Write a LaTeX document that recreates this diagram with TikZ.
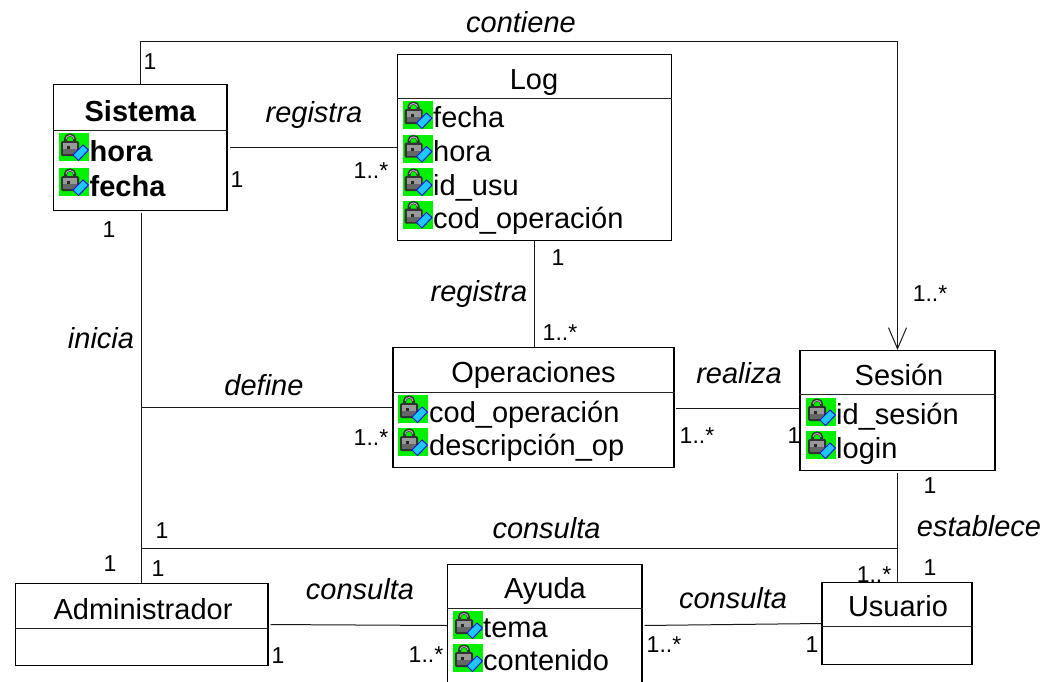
\documentclass[tikz,border=0pt]{standalone}
\usepackage{fontspec}
\setmainfont{Liberation Sans}
\usetikzlibrary{arrows.meta}
\definecolor{icongreen}{RGB}{0,240,0}
\definecolor{iconcyan}{RGB}{30,200,255}
\definecolor{iconblue}{RGB}{20,20,220}
\tikzset{
  umlbox/.style={draw=black,line width=1.1pt,fill=white,inner sep=0pt},
  rule/.style={draw=black!85,line width=1pt},
  link/.style={draw=black!90,line width=1pt},
  nametext/.style={font=\fontsize{29}{32}\selectfont,anchor=base,inner sep=0pt},
  boldname/.style={font=\fontsize{29}{32}\selectfont\bfseries,anchor=base,inner sep=0pt},
  attrtext/.style={font=\fontsize{29}{32}\selectfont,anchor=base west,inner sep=0pt},
  boldattr/.style={font=\fontsize{29}{32}\selectfont\bfseries,anchor=base west,inner sep=0pt},
  role/.style={font=\fontsize{29}{32}\selectfont\itshape,anchor=base,inner sep=0pt},
  mult/.style={font=\fontsize{23}{26}\selectfont,anchor=base,inner sep=0pt},
  lockicon/.pic={
    \fill[icongreen] (0,0) rectangle (30,28);
    \draw[black!80,line width=3pt] (6.5,10) -- (6.5,6) arc[start angle=180,end angle=0,x radius=4.5,y radius=-4] -- (15.5,10);
    \draw[black!30,line width=1pt] (7,6) arc[start angle=180,end angle=0,x radius=4,y radius=-3.5];
    \fill[black!80,rounded corners=1.5pt] (2,8) rectangle (20,23);
    \fill[black!40] (4,10) rectangle (18,21);
    \fill[black!60] (4,16) rectangle (18,21);
    \fill[black!85] (8,13) rectangle (11,16);
    \filldraw[fill=iconcyan,draw=iconblue,line width=1pt] (14,22) -- (24,12) -- (29.5,17) -- (19.5,27.5) -- cycle;
  }
}
\begin{document}
\begin{tikzpicture}[x=1pt,y=-1pt]
\useasboundingbox (0,0) rectangle (1049,681);
\clip (0,0) rectangle (1049,681);

% class boxes
\node[umlbox,minimum width=173.5pt,minimum height=126pt] (sis) at (140.25,147.5) {};
\node[umlbox,minimum width=274pt,minimum height=186pt] (log) at (534.5,147.5) {};
\node[umlbox,minimum width=281pt,minimum height=120pt] (ope) at (533.5,407.5) {};
\node[umlbox,minimum width=195pt,minimum height=120pt] (ses) at (897.5,410.5) {};
\node[umlbox,minimum width=252.5pt,minimum height=82pt] (adm) at (141.75,624.5) {};
\node[umlbox,minimum width=194.5pt,minimum height=122pt] (ayu) at (544.75,625.5) {};
\node[umlbox,minimum width=150pt,minimum height=82pt] (usu) at (897,623.5) {};

% compartment rules
\draw[rule] (sis.west |- 0,130.5) -- (sis.east |- 0,130.5);
\draw[rule] (log.west |- 0,98.5) -- (log.east |- 0,98.5);
\draw[rule] (ope.west |- 0,392) -- (ope.east |- 0,392);
\draw[rule] (ses.west |- 0,394.5) -- (ses.east |- 0,394.5);
\draw[rule] (adm.west |- 0,628) -- (adm.east |- 0,628);
\draw[rule] (ayu.west |- 0,608) -- (ayu.east |- 0,608);
\draw[rule] (usu.west |- 0,626.5) -- (usu.east |- 0,626.5);

% junction coordinates
\coordinate (ctop) at (897.5,41.5);
\coordinate (cdef) at (141.5,407.5);
\coordinate (cadm) at (141.5,548.5);
\coordinate (cses) at (897.5,548.5);
\coordinate (copr) at (676,408.5);
\coordinate (csel) at (800,408.5);

% connectors
\draw[link,-{Straight Barb[length=21pt,width=18pt,line width=1pt]}] (sis.north) |- (ctop) -- (ses.north);
\draw[link,shorten <=2pt] (sis) -- (log);
\draw[link] (log.south) -- (log.south |- ope.north);
\draw[link,shorten <=2pt] (sis.south -| adm.north) -- (adm.north);
\draw[link] (cdef) -- (ope);
\draw[link] (copr) -- (csel);
\draw[link] (cadm) -- (cses);
\draw[link,shorten <=2pt] (ses.south) -- (usu.north -| ses.south);
\draw[link,shorten <=2pt] (adm.east) -- (ayu.west);
\draw[link,shorten <=2pt] (ayu.east) -- (usu.west);

% lock icons
\pic at (59,133) {lockicon};
\pic at (59,168) {lockicon};
\pic at (402.5,101) {lockicon};
\pic at (402.5,134.5) {lockicon};
\pic at (402.5,168) {lockicon};
\pic at (402.5,200.5) {lockicon};
\pic at (398,395) {lockicon};
\pic at (398,428) {lockicon};
\pic at (806,398) {lockicon};
\pic at (806,431) {lockicon};
\pic at (453,611) {lockicon};
\pic at (453,644) {lockicon};

% class names
\node[boldname] (tsis) at (140.25,121) {Sistema};
\node[nametext] (tlog) at (534,89) {Log};
\node[nametext] (tope) at (533.5,382) {Operaciones};
\node[nametext] (tses) at (899,385) {Sesión};
\node[nametext] (tadm) at (143,619) {Administrador};
\node[nametext] (tayu) at (545,598) {Ayuda};
\node[nametext] (tusu) at (898,616) {Usuario};

% attributes
\node[boldattr] (a1) at (89.5,161) {hora};
\node[boldattr] (a2) at (89.5,196) {fecha};
\node[attrtext] (a3) at (433,127) {fecha};
\node[attrtext] (a4) at (433,161) {hora};
\node[attrtext] (a5) at (433,195) {id\_usu};
\node[attrtext] (a6) at (433,228) {cod\_operación};
\node[attrtext] (a7) at (429,422) {cod\_operación};
\node[attrtext] (a8) at (429,455) {descripción\_op};
\node[attrtext] (a9) at (836,424) {id\_sesión};
\node[attrtext] (a10) at (836,458) {login};
\node[attrtext] (a11) at (483,637) {tema};
\node[attrtext] (a12) at (483,670) {contenido};

% association names
\node[role] (r1) at (521,32) {contiene};
\node[role] (r2) at (314,122) {registra};
\node[role] (r3) at (479,301) {registra};
\node[role] (r4) at (101,348) {inicia};
\node[role] (r5) at (264,395) {define};
\node[role] (r6) at (739,383) {realiza};
\node[role] (r7) at (546.5,538) {consulta};
\node[role] (r8) at (360,599) {consulta};
\node[role] (r9) at (733,608) {consulta};
\node[role] (r10) at (979,536) {establece};

% multiplicities
\node[mult] (m1) at (150,69) {1};
\node[mult] (m2) at (237,187) {1};
\node[mult] (m3) at (109,237) {1};
\node[mult] (m4) at (371,178) {1..*};
\node[mult] (m5) at (558,265) {1};
\node[mult] (m6) at (560,340) {1..*};
\node[mult] (m7) at (930,301) {1..*};
\node[mult] (m8) at (371,445) {1..*};
\node[mult] (m9) at (697,443) {1..*};
\node[mult] (m10) at (794,443) {1};
\node[mult] (m11) at (930,493) {1};
\node[mult] (m12) at (930,575) {1};
\node[mult] (m13) at (874,582) {1..*};
\node[mult] (m14) at (162,538) {1};
\node[mult] (m15) at (158,576) {1};
\node[mult] (m16) at (110,571) {1};
\node[mult] (m17) at (278,663) {1};
\node[mult] (m18) at (426,662) {1..*};
\node[mult] (m19) at (664,652) {1..*};
\node[mult] (m20) at (812,652) {1};
\end{tikzpicture}
\end{document}
